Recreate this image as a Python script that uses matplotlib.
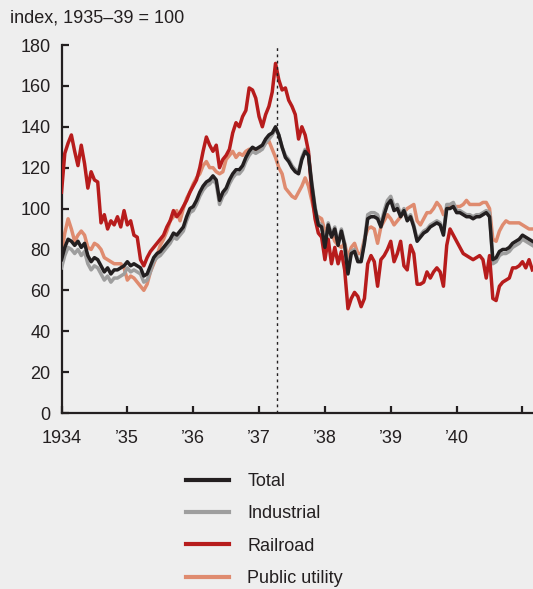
import matplotlib
matplotlib.use("Agg")
import matplotlib.pyplot as plt
import numpy as np

# fractional-year grid, roughly every 2.6 weeks from Jan 1934
years = np.round(np.arange(144) * 0.05 + 1934.0, 2)

total = [75, 81, 85, 84, 82, 84, 81, 83, 77, 74, 76, 75, 72, 69, 71, 68, 70, 70, 71, 72,
         74, 72, 73, 72, 71, 67, 68, 72, 76, 78, 79, 81, 83, 85, 88, 87, 89, 91, 96, 100,
         101, 104, 108, 111, 113, 114, 116, 114, 104, 108, 110, 114, 117, 119, 119, 121, 125, 128, 130, 129,
         130, 131, 134, 136, 137, 140, 136, 130, 125, 123, 120, 118, 117, 124, 128, 126, 112, 100, 92, 91,
         81, 92, 86, 90, 82, 89, 82, 68, 78, 79, 74, 74, 83, 95, 96, 96, 95, 91, 97, 102,
         104, 99, 100, 96, 99, 94, 96, 91, 84, 86, 88, 89, 91, 92, 93, 92, 87, 100, 100, 101,
         98, 98, 97, 96, 96, 95, 96, 96, 97, 98, 96, 75, 76, 79, 80, 80, 81, 83, 84, 85,
         87, 86, 85, 84]

industrial = [71, 77, 81, 80, 78, 80, 77, 79, 73, 70, 72, 71, 68, 65, 67, 64, 66, 66, 67, 68,
              71, 69, 70, 69, 68, 64, 65, 69, 74, 76, 77, 79, 81, 83, 86, 85, 87, 89, 94, 98,
              99, 102, 106, 109, 111, 112, 114, 112, 102, 106, 108, 112, 115, 117, 117, 119, 123, 126, 128, 127,
              128, 129, 132, 134, 136, 139, 136, 130, 126, 124, 121, 119, 118, 125, 129, 127, 113, 101, 93, 92,
              82, 93, 87, 91, 83, 90, 83, 69, 79, 80, 75, 75, 84, 97, 98, 98, 97, 92, 99, 104,
              106, 101, 102, 97, 100, 95, 97, 92, 85, 87, 89, 90, 92, 93, 94, 93, 88, 102, 102, 103,
              99, 99, 98, 97, 97, 96, 97, 97, 98, 99, 98, 73, 74, 77, 78, 78, 79, 81, 82, 83,
              85, 84, 83, 82]

railroad = [108, 127, 132, 136, 128, 121, 131, 122, 110, 118, 114, 113, 93, 97, 90, 94, 92, 96, 91, 99,
            92, 94, 87, 86, 75, 72, 76, 79, 81, 83, 85, 87, 91, 94, 99, 96, 98, 101, 104, 108,
            111, 114, 120, 128, 135, 131, 128, 131, 120, 124, 126, 129, 137, 142, 140, 145, 148, 159, 158, 154,
            145, 140, 146, 150, 157, 171, 163, 158, 159, 153, 150, 146, 134, 140, 136, 128, 108, 95, 88, 86,
            75, 85, 73, 81, 73, 79, 70, 51, 56, 59, 57, 52, 56, 73, 77, 74, 62, 75, 77, 80,
            84, 74, 78, 84, 72, 70, 82, 78, 63, 63, 64, 69, 66, 69, 71, 69, 62, 82, 90, 87,
            84, 81, 78, 77, 76, 75, 76, 77, 75, 66, 77, 56, 55, 62, 64, 65, 66, 71, 71, 72,
            74, 71, 75, 70]

utility = [78, 88, 95, 90, 84, 87, 89, 87, 81, 80, 83, 82, 80, 76, 75, 74, 73, 73, 73, 71,
           65, 67, 66, 64, 62, 60, 63, 69, 73, 77, 82, 85, 89, 94, 96, 99, 94, 100, 105, 108,
           112, 115, 117, 121, 123, 120, 120, 118, 117, 118, 124, 126, 128, 125, 127, 126, 128, 129, 129, 129,
           128, 130, 132, 133, 129, 125, 120, 117, 110, 108, 106, 105, 108, 111, 115, 111, 104, 97, 96, 95,
           89, 91, 88, 84, 82, 81, 83, 76, 81, 83, 78, 78, 85, 90, 91, 90, 83, 91, 94, 97,
           95, 92, 94, 96, 98, 100, 101, 102, 94, 92, 95, 98, 98, 100, 103, 101, 97, 100, 101, 101,
           101, 101, 102, 104, 102, 102, 102, 102, 103, 103, 100, 85, 84, 89, 92, 94, 93, 93, 93, 93,
           92, 91, 90, 90]

year_ticks = [1934, 1935, 1936, 1937, 1938, 1939, 1940, 1941]
year_labels = ["1934", "\u201935", "\u201936", "\u201937", "\u201938", "\u201939", "\u201940", ""]
marker_year = 1937.27

bg = "#eeeeee"
ink = "#231f20"
plt.rcParams["font.family"] = ["Liberation Sans", "DejaVu Sans"]

fig = plt.figure(figsize=(5.33, 5.89), dpi=100, facecolor=bg)
ax = fig.add_axes([61.5 / 533, 176 / 589, 471.5 / 533, 368 / 589], facecolor=bg)

lw = 2.5
ax.plot(years, utility, color="#df8b6f", lw=lw, label="Public utility", zorder=2)
ax.plot(years, industrial, color="#9e9e9e", lw=lw, label="Industrial", zorder=3)
ax.plot(years, railroad, color="#b71c1c", lw=lw, label="Railroad", zorder=4)
ax.plot(years, total, color=ink, lw=lw, label="Total", zorder=5)
ax.axvline(marker_year, color=ink, lw=1.0, ls=(0, (2, 2.5)), zorder=6)

ax.set_xlim(1934, 1941.16)
ax.set_ylim(0, 180)
ax.set_yticks(range(0, 181, 20))
ax.set_xticks(year_ticks)
ax.set_xticklabels(year_labels)
for s in ["top", "right"]:
    ax.spines[s].set_visible(False)
for s in ["left", "bottom"]:
    ax.spines[s].set_color(ink)
    ax.spines[s].set_linewidth(1.6)
ax.tick_params(direction="in", length=5, width=1.6, color=ink, labelsize=13, labelcolor=ink)
ax.tick_params(axis="y", pad=8)
ax.tick_params(axis="x", pad=12)

fig.text(10 / 533, 1 - 18 / 589, "index, 1935\u201339 = 100", fontsize=13, color=ink, va="center", ha="left")

handles, labels = ax.get_legend_handles_labels()
order = [3, 1, 2, 0]
leg = fig.legend([handles[i] for i in order], [labels[i] for i in order],
                 loc="upper left", bbox_to_anchor=(186 / 533, 1 - 473 / 589),
                 frameon=False, fontsize=13, handlelength=2.4, handletextpad=1.0,
                 labelspacing=0.85, borderpad=0, borderaxespad=0)
for t in leg.get_texts():
    t.set_color(ink)
for h in leg.get_lines():
    h.set_linewidth(3.0)

fig.savefig("out.png", dpi=100, facecolor=bg)
